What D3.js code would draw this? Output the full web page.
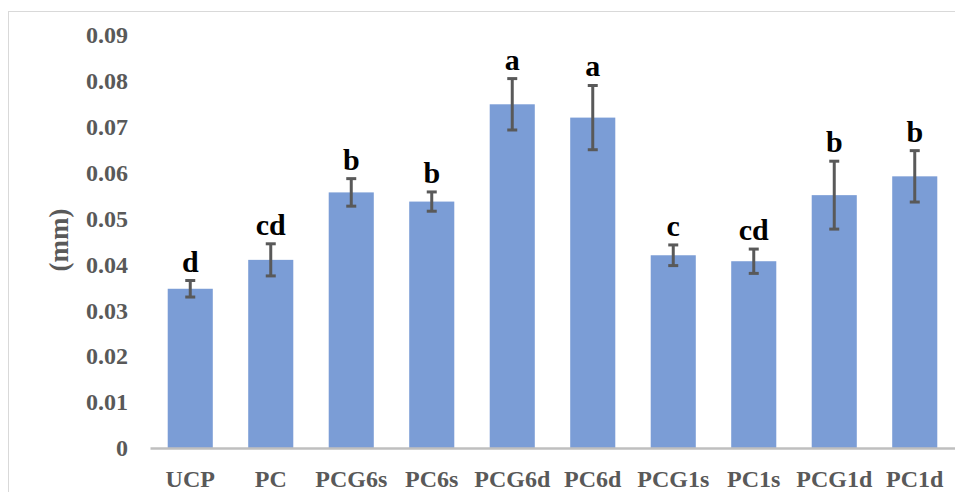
<!DOCTYPE html>
<html lang="en">
<head>
<meta charset="UTF-8">
<title>Bar chart (mm)</title>
<script src="https://cdn.jsdelivr.net/npm/d3@7"></script>
<style>
  body { margin: 0; background: #fff; }
</style>
</head>
<body>
<div id="chart"></div>
<script>
  // data
  var groups = ["UCP", "PC", "PCG6s", "PC6s", "PCG6d", "PC6d", "PCG1s", "PC1s", "PCG1d", "PC1d"];
  var means = [0.0347, 0.0410, 0.0557, 0.0537, 0.0749, 0.0720, 0.0420, 0.0407, 0.0551, 0.0592];
  var errors = [0.0018, 0.0035, 0.0030, 0.0021, 0.0056, 0.0070, 0.00225, 0.00265, 0.0074, 0.0056];
  var letters = ["d", "cd", "b", "b", "a", "a", "c", "cd", "b", "b"];
  var yTicks = [0, 0.01, 0.02, 0.03, 0.04, 0.05, 0.06, 0.07, 0.08, 0.09];

  var FONT = "'Liberation Serif', 'Times New Roman', Times, serif";
  var W = 955, H = 492;
  var svg = d3.select("#chart").append("svg").attr("width", W).attr("height", H);

  // chart frame
  svg.append("rect")
    .attr("x", 8.5).attr("y", 11.5)
    .attr("width", W).attr("height", H)
    .attr("fill", "none").attr("stroke", "#d9d9d9");

  var x = d3.scaleBand().domain(groups).range([150, 955]).paddingInner(0.44).paddingOuter(0.22);
  var y = d3.scaleLinear().domain([0, 0.09]).range([448, 35]);

  // y axis labels only
  var gy = svg.append("g").attr("class", "axisY")
    .attr("transform", "translate(128,0)")
    .call(d3.axisLeft(y).tickValues(yTicks).tickSize(0).tickPadding(0)
      .tickFormat(function(d) { return d === 0 ? "0" : d3.format(".2f")(d); }));
  gy.select(".domain").remove();
  gy.selectAll("text")
    .style("font-family", FONT).style("font-weight", "bold")
    .style("font-size", "24px").attr("fill", "#595959");

  svg.append("text")
    .attr("transform", "translate(68,240) rotate(-90)")
    .attr("text-anchor", "middle")
    .attr("fill", "#595959")
    .style("font-family", FONT).style("font-weight", "bold")
    .style("font-size", "27px")
    .text("(mm)");

  // bars
  svg.selectAll(".bar")
    .data(means)
    .enter().append("rect")
    .attr("class", "bar")
    .attr("x", function(d, i) { return x(groups[i]); })
    .attr("y", function(d) { return y(d); })
    .attr("width", x.bandwidth())
    .attr("height", function(d) { return y(0) - y(d); })
    .attr("fill", "#7b9dd6");

  // x axis
  var gx = svg.append("g").attr("class", "axisX")
    .attr("transform", "translate(0," + y(0) + ")")
    .call(d3.axisBottom(x).tickSize(0).tickPadding(22).tickSizeOuter(0));
  gx.select(".domain").attr("stroke", "#bfbfbf").attr("stroke-width", 2.5);
  gx.selectAll("text")
    .style("font-family", FONT).style("font-weight", "bold")
    .style("font-size", "24px").attr("fill", "#595959");

  // error bars
  var eb = svg.selectAll(".err")
    .data(means)
    .enter().append("g")
    .attr("class", "err")
    .attr("stroke", "#595959")
    .attr("stroke-width", 3);
  eb.append("line")
    .attr("x1", function(d, i) { return x(groups[i]) + x.bandwidth() / 2; })
    .attr("x2", function(d, i) { return x(groups[i]) + x.bandwidth() / 2; })
    .attr("y1", function(d, i) { return y(d + errors[i]); })
    .attr("y2", function(d, i) { return y(d - errors[i]); });
  [1, -1].forEach(function(s) {
    eb.append("line")
      .attr("x1", function(d, i) { return x(groups[i]) + x.bandwidth() / 2 - 5; })
      .attr("x2", function(d, i) { return x(groups[i]) + x.bandwidth() / 2 + 5; })
      .attr("y1", function(d, i) { return y(d + s * errors[i]); })
      .attr("y2", function(d, i) { return y(d + s * errors[i]); });
  });

  // significance letters
  svg.selectAll(".letter")
    .data(means)
    .enter().append("text")
    .attr("class", "letter")
    .attr("text-anchor", "middle")
    .attr("fill", "#000")
    .style("font-family", FONT).style("font-weight", "bold")
    .style("font-size", "30px")
    .attr("x", function(d, i) { return x(groups[i]) + x.bandwidth() / 2; })
    .attr("y", function(d, i) { return y(d + errors[i]) - 9; })
    .text(function(d, i) { return letters[i]; });
</script>
</body>
</html>
